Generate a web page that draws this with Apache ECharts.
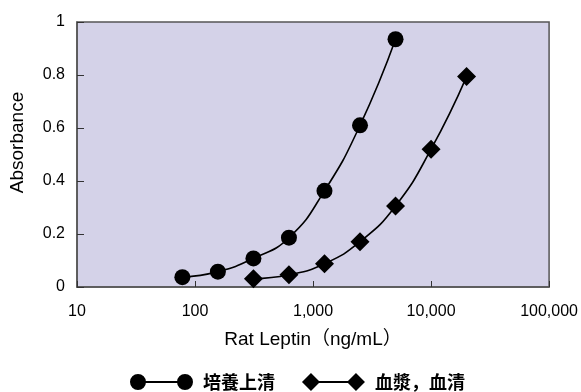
<!DOCTYPE html>
<html>
<head>
<meta charset="utf-8">
<script src="https://cdn.jsdelivr.net/npm/echarts@6/dist/echarts.min.js"></script>
<style>html,body{margin:0;padding:0;background:#fff;}#c{width:581px;height:392px;}</style>
</head>
<body>
<div id="c"></div>
<script>
// Data
var seriesNames = ['培養上清', '血漿，血清'];
var concA = [78.125, 156.25, 312.5, 625, 1250, 2500, 5000];
var absA  = [0.037, 0.058, 0.108, 0.186, 0.363, 0.61, 0.935];
var concB = [312.5, 625, 1250, 2500, 5000, 10000, 20000];
var absB  = [0.031, 0.046, 0.088, 0.171, 0.306, 0.52, 0.794];
var xAxisName = 'Rat Leptin（ng/mL）';
var yAxisName = 'Absorbance';

function pairs(xs, ys) { return xs.map(function (x, i) { return [x, ys[i]]; }); }

var circleIcon = 'path://M0,0 M63,18 M0,9 A8,8 0 1,1 16,9 A8,8 0 1,1 0,9 Z M15,8 L48,8 L48,10 L15,10 Z M47,9 A8,8 0 1,1 63,9 A8,8 0 1,1 47,9 Z';
var diamondIcon = 'path://M0,0 M63,18 M0,9 L9,0 L18,9 L9,18 Z M16,8 L47,8 L47,10 L16,10 Z M45,9 L54,0 L63,9 L54,18 Z';

var chart = echarts.init(document.getElementById('c'), null, {renderer: 'canvas'});
var font = "'Liberation Sans', Arial, 'Noto Sans CJK JP', sans-serif";
chart.setOption({
  animation: false,
  backgroundColor: '#ffffff',
  grid: {
    left: 74, right: 29, top: 22, bottom: 105,
    show: true, backgroundColor: '#D4D2E8', borderColor: '#555', borderWidth: 1.5
  },
  legend: {
    left: 130, top: 373, padding: 0,
    itemWidth: 63, itemHeight: 18, itemGap: 27,
    selectedMode: false,
    textStyle: {fontSize: 18, fontWeight: 'bold', color: '#000', fontFamily: "'Noto Sans CJK JP', sans-serif", padding: [0, 0, 0, 5]},
    data: [
      {name: seriesNames[0], icon: circleIcon, itemStyle: {color: '#000'}},
      {name: seriesNames[1], icon: diamondIcon, itemStyle: {color: '#000'}}
    ]
  },
  xAxis: {
    type: 'log', logBase: 10, min: 10, max: 100000,
    name: xAxisName, nameLocation: 'middle', nameGap: 43,
    nameTextStyle: {fontSize: 19, color: '#000', fontFamily: font},
    axisLine: {show: true, lineStyle: {color: '#555', width: 1.5}},
    axisTick: {show: true, inside: true, length: 6, lineStyle: {color: '#333'}},
    axisLabel: {fontSize: 16, color: '#000', fontFamily: font, margin: 17,
      formatter: function (v) { return Math.round(v).toLocaleString('en-US'); }},
    splitLine: {show: false},
    minorTick: {show: false}
  },
  yAxis: {
    type: 'value', min: 0, max: 1, interval: 0.2,
    name: yAxisName, nameLocation: 'middle', nameGap: 50, nameRotate: 90,
    nameTextStyle: {fontSize: 19, color: '#000', fontFamily: font, padding: [0, 0, 0, 24]},
    axisLine: {show: true, lineStyle: {color: '#555', width: 1.5}},
    axisTick: {show: true, inside: true, length: 7, lineStyle: {color: '#333'}},
    axisLabel: {fontSize: 16, color: '#000', fontFamily: font, margin: 12},
    splitLine: {show: false}
  },
  series: [
    {
      name: seriesNames[0], type: 'line', smooth: true,
      data: pairs(concA, absA),
      symbol: 'circle', symbolSize: 16,
      itemStyle: {color: '#000'}, lineStyle: {color: '#000', width: 1.6}
    },
    {
      name: seriesNames[1], type: 'line', smooth: true,
      data: pairs(concB, absB),
      symbol: 'diamond', symbolSize: 19,
      itemStyle: {color: '#000'}, lineStyle: {color: '#000', width: 1.6}
    }
  ]
});
</script>
</body>
</html>
